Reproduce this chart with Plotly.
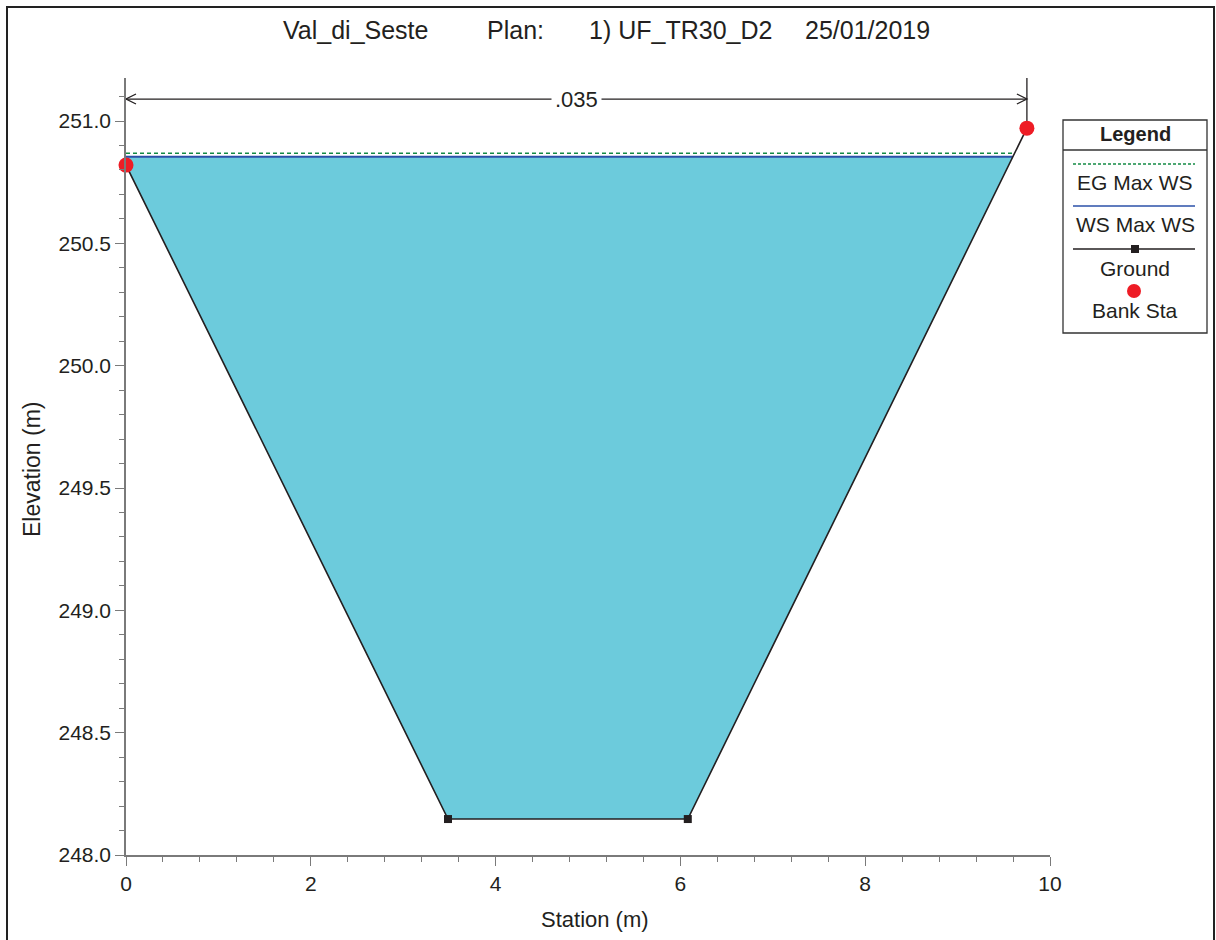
import numpy as np
import plotly.graph_objects as go

# ---------------- data ----------------
ground_sta = [0.0, 3.485, 6.08, 9.75]
ground_elev = [250.82, 248.147, 248.147, 250.971]
bank_sta = [0.0, 9.75]
bank_elev = [250.82, 250.971]
ws_elev = 250.854
eg_elev = 250.868
n_value = ".035"
title_parts = ["Val_di_Seste", "Plan:", "1) UF_TR30_D2", "25/01/2019"]
legend_names = ["EG Max WS", "WS Max WS", "Ground", "Bank Sta"]

# ---------------- layout constants ----------------
W, H = 1216, 940
L, R, T, B = 126, 1216 - 1050, 78, 940 - 855
PW, PH = W - L - R, H - T - B
def px(x):
    return (x - L) / PW
def py(y):
    return (H - B - y) / PH

FONT = "Liberation Sans, Arial, sans-serif"
TXT = "#231f20"
AX = "#7a7a7a"
FILL = "#6ccbdc"
WS_C = "#2b50a8"
EG_C = "#138a44"
GR_C = "#231f20"
RED = "#ee1c25"
y_lo, y_hi = 248.0, 251.176
dim_y = 251.09

# ---------- water polygon computed from ground & WS ----------
gs = np.array(ground_sta); ge = np.array(ground_elev)
def wet_edge(i0, i1):
    x0, y0, x1, y1 = gs[i0], ge[i0], gs[i1], ge[i1]
    return x0 + (ws_elev - y0) * (x1 - x0) / (y1 - y0)
left_x = gs[0]
right_x = wet_edge(2, 3) if ge[3] > ws_elev else gs[3]
poly_x = [left_x, left_x] + list(gs[1:3]) + [right_x, left_x]
poly_y = [ws_elev, ge[0]] + list(ge[1:3]) + [ws_elev, ws_elev]

fig = go.Figure()
fig.add_trace(go.Scatter(x=poly_x, y=poly_y, fill="toself", fillcolor=FILL,
                         mode="lines", line=dict(width=0), hoverinfo="skip"))
fig.add_trace(go.Scatter(x=[left_x, right_x], y=[eg_elev, eg_elev], mode="lines",
                         line=dict(color=EG_C, width=1.5, dash="4px,3px"), name=legend_names[0]))
fig.add_trace(go.Scatter(x=[left_x, right_x], y=[ws_elev, ws_elev], mode="lines",
                         line=dict(color=WS_C, width=2), name=legend_names[1]))
fig.add_trace(go.Scatter(x=ground_sta, y=ground_elev, mode="lines+markers",
                         line=dict(color=GR_C, width=1.6),
                         marker=dict(symbol="square", size=8, color=GR_C),
                         name=legend_names[2], cliponaxis=False))
fig.add_trace(go.Scatter(x=bank_sta, y=bank_elev, mode="markers",
                         marker=dict(symbol="circle", size=15, color=RED),
                         name=legend_names[3], cliponaxis=False))

shapes = []
annotations = []

def ann(x, y, text, size, xref="paper", yref="paper", **kw):
    d = dict(x=x, y=y, xref=xref, yref=yref, text=text, showarrow=False,
             xanchor="center", yanchor="middle",
             font=dict(family=FONT, size=size, color=TXT))
    d.update(kw)
    annotations.append(d)

# dimension line with chevrons
shapes.append(dict(type="line", xref="x", yref="y", x0=bank_sta[0], x1=bank_sta[1],
                   y0=dim_y, y1=dim_y, line=dict(color=GR_C, width=1.3)))
shapes.append(dict(type="path", xref="x", yref="y", xsizemode="pixel", ysizemode="pixel",
                   xanchor=bank_sta[0], yanchor=dim_y, path="M 10,5 L 0,0 L 10,-5",
                   line=dict(color=GR_C, width=1.3)))
shapes.append(dict(type="path", xref="x", yref="y", xsizemode="pixel", ysizemode="pixel",
                   xanchor=bank_sta[1], yanchor=dim_y, path="M -10,5 L 0,0 L -10,-5",
                   line=dict(color=GR_C, width=1.3)))
shapes.append(dict(type="line", xref="x", yref="y", x0=bank_sta[1], x1=bank_sta[1],
                   y0=bank_elev[1], y1=y_hi, line=dict(color=GR_C, width=1.3), layer="below"))
ann((bank_sta[0] + bank_sta[1]) / 2, dim_y, n_value, 22, xref="x", yref="y",
    bgcolor="white", borderpad=3)

# outer frame
shapes.append(dict(type="rect", xref="paper", yref="paper", x0=px(7), x1=px(1214),
                   y0=py(950), y1=py(7), line=dict(color="#222", width=2)))

# title
for txt, cx in zip(title_parts, [355, 515, 680, 867]):
    ann(px(cx), py(30), txt, 25)

# axis titles
ann(px(32), py(470), "Elevation (m)", 23, textangle=-90)
ann(px(595), py(919), "Station (m)", 22)

# custom legend box
lx0, lx1, ly0, ly1 = px(1063), px(1207), py(333), py(120)
lcx = px(1135)
shapes.append(dict(type="rect", xref="paper", yref="paper", x0=lx0, x1=lx1, y0=ly0, y1=ly1,
                   line=dict(color="#333", width=1.3), fillcolor="white"))
shapes.append(dict(type="line", xref="paper", yref="paper", x0=lx0, x1=lx1, y0=py(150), y1=py(150),
                   line=dict(color="#333", width=1.3)))
ann(lcx, py(134), "<b>Legend</b>", 20)
sx0, sx1 = px(1073), px(1195)
shapes.append(dict(type="line", xref="paper", yref="paper", x0=sx0, x1=sx1, y0=py(164), y1=py(164),
                   line=dict(color=EG_C, width=1.3, dash="3px,2px")))
shapes.append(dict(type="line", xref="paper", yref="paper", x0=sx0, x1=sx1, y0=py(206), y1=py(206),
                   line=dict(color=WS_C, width=1.5)))
shapes.append(dict(type="line", xref="paper", yref="paper", x0=sx0, x1=sx1, y0=py(249), y1=py(249),
                   line=dict(color=GR_C, width=1.5)))
shapes.append(dict(type="rect", xref="paper", yref="paper", xsizemode="pixel", ysizemode="pixel",
                   xanchor=lcx, yanchor=py(249), x0=-4, x1=4, y0=-4, y1=4,
                   fillcolor=GR_C, line=dict(width=0)))
shapes.append(dict(type="circle", xref="paper", yref="paper", xsizemode="pixel", ysizemode="pixel",
                   xanchor=px(1134), yanchor=py(291), x0=-7, x1=7, y0=-7, y1=7,
                   fillcolor=RED, line=dict(width=0)))
for name, yy in zip(legend_names, [183, 225, 268, 310]):
    ann(lcx, py(yy), name, 21)

fig.update_layout(
    width=W, height=H, margin=dict(l=L, r=R, t=T, b=B, pad=0),
    paper_bgcolor="white", plot_bgcolor="white", showlegend=False,
    shapes=shapes, annotations=annotations,
    font=dict(family=FONT, size=20, color=TXT),
    xaxis=dict(range=[0, 10], dtick=2, tick0=0, showgrid=False, zeroline=False,
               showline=True, linecolor=AX, linewidth=1.5, ticks="outside", ticklen=9,
               tickcolor=AX, tickwidth=1.3, tickfont=dict(size=21, color=TXT),
               minor=dict(dtick=0.4, tick0=0, ticks="outside", ticklen=5, tickcolor=AX, tickwidth=1.3, showgrid=False)),
    yaxis=dict(range=[y_lo, y_hi], dtick=0.5, tick0=248, tickformat=".1f", showgrid=False,
               zeroline=False, showline=True, linecolor=AX, linewidth=1.5, ticks="outside",
               ticklen=9, tickcolor=AX, tickwidth=1.3, tickfont=dict(size=21, color=TXT),
               minor=dict(dtick=0.1, tick0=248, ticks="outside", ticklen=5, tickcolor=AX, tickwidth=1.3, showgrid=False)),
)

fig.write_html("out.html", config={"displayModeBar": False},
               post_script="document.body.style.margin='0px';document.body.style.overflow='hidden';")
